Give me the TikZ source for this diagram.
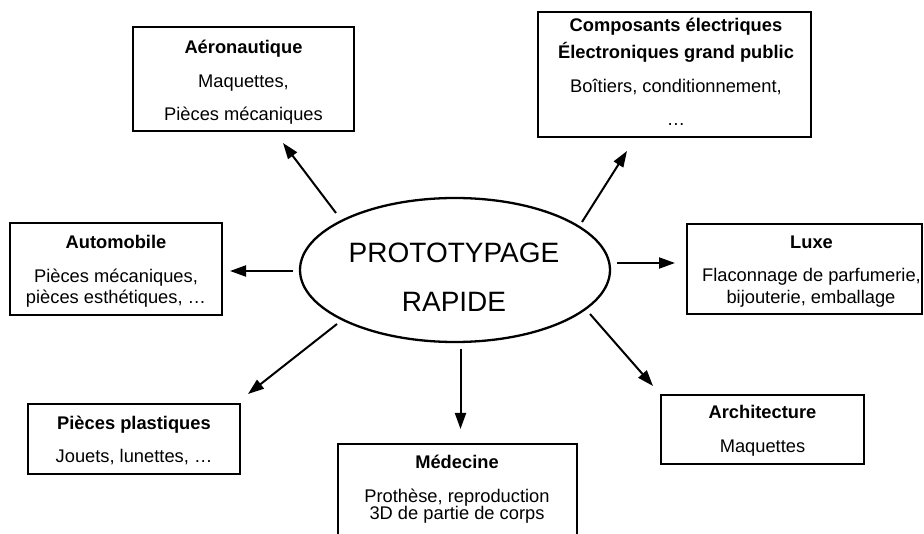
\documentclass[tikz,border=0pt]{standalone}
\usepackage{fontspec}
\setmainfont{Liberation Sans}
\usetikzlibrary{arrows.meta,shapes.geometric}
\tikzset{
  box/.style={draw, line width=1.8pt, rectangle, inner sep=0pt},
  ttl/.style={anchor=base, inner sep=0pt, font=\fontsize{18.3}{21}\selectfont\bfseries},
  txt/.style={anchor=base, inner sep=0pt, font=\fontsize{18.3}{21}\selectfont},
  big/.style={anchor=base, inner sep=0pt, font=\fontsize{28}{34}\selectfont},
  arr/.style={line width=2pt, -{Triangle[length=16pt,width=11pt]}}
}
\begin{document}
\begin{tikzpicture}[x=1pt,y=-1pt]
\useasboundingbox (0,0) rectangle (924,534);
% central ellipse
\node[draw, ellipse, line width=2.3pt, minimum width=310pt, minimum height=144pt, inner sep=0pt] (ell) at (455,270) {};
\node[big] (ellA) at (454,262.5) {PROTOTYPAGE};
\node[big] (ellB) at (454,312) {RAPIDE};
% boxes
\node[box, minimum width=221pt, minimum height=104pt] (aero) at (243.5,79) {};
\node[ttl] (aeroT) at (243.5,54) {Aéronautique};
\node[txt] (aeroA) at (243.5,87.5) {Maquettes,};
\node[txt] (aeroB) at (243.5,120.5) {Pièces mécaniques};

\node[box, minimum width=273pt, minimum height=125pt] (comp) at (674.5,74.5) {};
\node[ttl] (compT) at (676,31.5) {Composants électriques};
\node[ttl] (compU) at (676,59) {Électroniques grand public};
\node[txt] (compA) at (676,93) {Boîtiers, conditionnement,};
\node[txt] (compB) at (676,125.5) {…};

\node[box, minimum width=212pt, minimum height=92pt] (auto) at (116,269) {};
\node[ttl] (autoT) at (116,249) {Automobile};
\node[txt] (autoA) at (116,283) {Pièces mécaniques,};
\node[txt] (autoB) at (116,304) {pièces esthétiques, …};

\node[box, minimum width=235pt, minimum height=90pt] (luxe) at (804.5,269) {};
\node[ttl] (luxeT) at (811.5,248.5) {Luxe};
\node[txt] (luxeA) at (811.5,281.5) {Flaconnage de parfumerie,};
\node[txt] (luxeB) at (811,303.5) {bijouterie, emballage};

\node[box, minimum width=212pt, minimum height=70pt] (plast) at (134,439) {};
\node[ttl] (plastT) at (134,430) {Pièces plastiques};
\node[txt] (plastA) at (134,462.5) {Jouets, lunettes, …};

\node[box, minimum width=203pt, minimum height=69pt] (arch) at (762.5,429.5) {};
\node[ttl] (archT) at (762.5,418.5) {Architecture};
\node[txt] (archA) at (762.5,453) {Maquettes};

\node[box, minimum width=239pt, minimum height=116pt] (med) at (457.5,502) {};
\node[ttl] (medT) at (457,468.5) {Médecine};
\node[txt] (medA) at (457,502) {Prothèse, reproduction};
\node[txt] (medB) at (457,519.5) {3D de partie de corps};

% connector ends
\coordinate (s1) at (336,213); \coordinate (e1) at (283,143);
\coordinate (s2) at (582,222); \coordinate (e2) at (627,151);
\coordinate (s3) at (617,263); \coordinate (e3) at (675,263);
\coordinate (s4) at (293,271); \coordinate (e4) at (230,271);
\coordinate (s5) at (337,324); \coordinate (e5) at (248,394);
\coordinate (s6) at (460.5,349); \coordinate (e6) at (460.5,429);
\coordinate (s7) at (590,314); \coordinate (e7) at (653,386);
\draw[arr] (s1) -- (e1);
\draw[arr] (s2) -- (e2);
\draw[arr] (s3) -- (e3);
\draw[arr] (s4) -- (e4);
\draw[arr] (s5) -- (e5);
\draw[arr] (s6) -- (e6);
\draw[arr] (s7) -- (e7);
\end{tikzpicture}
\end{document}
